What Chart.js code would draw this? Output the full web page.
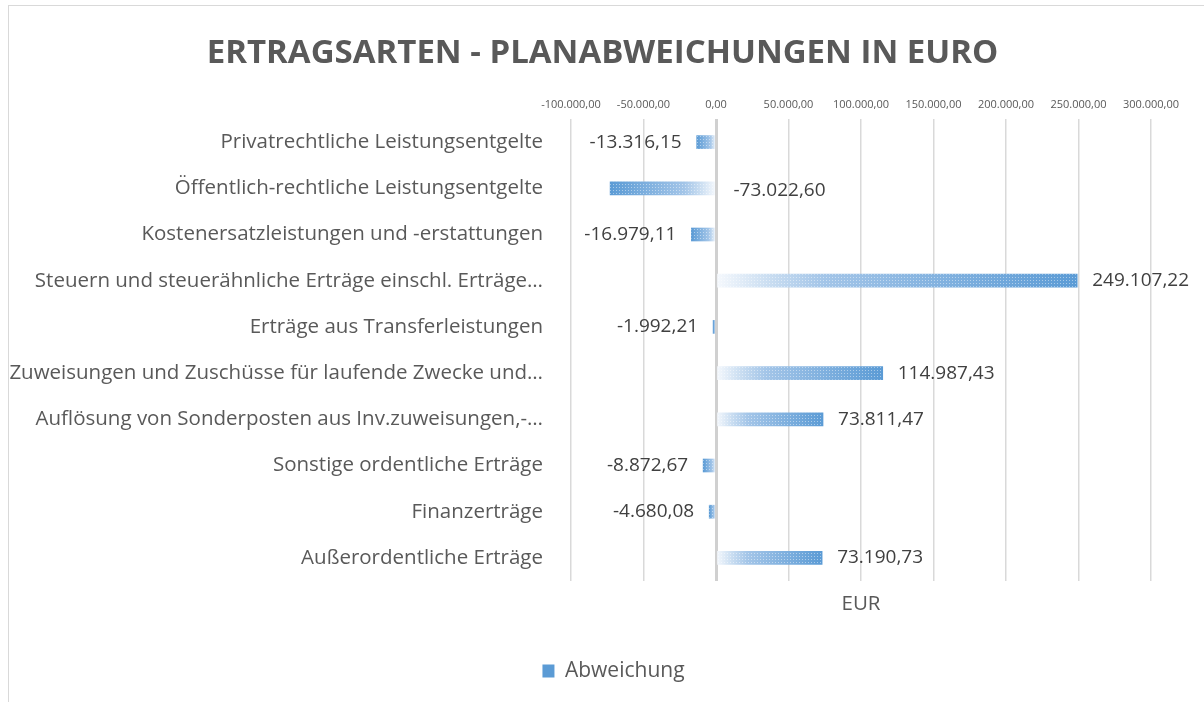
<!DOCTYPE html>
<html lang="de">
<head>
<meta charset="utf-8">
<title>Ertragsarten - Planabweichungen in Euro</title>
<script src="https://cdn.jsdelivr.net/npm/chart.js@4.4.1/dist/chart.umd.min.js"></script>
<style>
  html, body { margin: 0; padding: 0; background: #fff; }
  #wrap { width: 1204px; height: 702px; }
</style>
</head>
<body>
<div id="wrap"><canvas id="graficoErtrag" width="1204" height="702"></canvas></div>
<script>
const kategorien = [
    'Privatrechtliche Leistungsentgelte',
    'Öffentlich-rechtliche Leistungsentgelte',
    'Kostenersatzleistungen und -erstattungen',
    'Steuern und steuerähnliche Erträge einschl. Erträge…',
    'Erträge aus Transferleistungen',
    'Zuweisungen und Zuschüsse für laufende Zwecke und…',
    'Auflösung von Sonderposten aus Inv.zuweisungen,-…',
    'Sonstige ordentliche Erträge',
    'Finanzerträge',
    'Außerordentliche Erträge'
]
const abweichung = [-13316.15, -73022.60, -16979.11, 249107.22, -1992.21, 114987.43, 73811.47, -8872.67, -4680.08, 73190.73]
const achseMin = -100000
const achseMax = 300000
const achseSchritt = 50000

Chart.defaults.font.family = "'Open Sans', sans-serif"

function formatiereEuro(wert) {
    const negativ = wert < 0
    const teile = Math.abs(wert).toFixed(2).split('.')
    const ganz = teile[0].replace(/\B(?=(\d{3})+(?!\d))/g, '.')
    return (negativ ? '-' : '') + ganz + ',' + teile[1]
}

// Verlauf vom Nullpunkt (hell) bis zum Balkenende (blau)
function balkenFarbe(context) {
    const chart = context.chart
    const skala = chart.scales.x
    if (!chart.chartArea || !skala || context.raw === undefined) return '#6fa6da'
    const x0 = skala.getPixelForValue(0)
    const x1 = skala.getPixelForValue(context.raw)
    if (Math.abs(x1 - x0) < 1) return '#9ec2e6'
    const verlauf = chart.ctx.createLinearGradient(x0, 0, x1, 0)
    verlauf.addColorStop(0, '#f6f9fd')
    verlauf.addColorStop(0.15, '#c9ddf1')
    verlauf.addColorStop(0.3, '#a3c5e8')
    verlauf.addColorStop(1, '#5b9bd5')
    return verlauf
}

function punktMuster(ctx) {
    const c = document.createElement('canvas')
    c.width = 3
    c.height = 3
    const p = c.getContext('2d')
    p.fillStyle = 'rgba(255,255,255,0.45)'
    p.fillRect(1, 1, 1, 1)
    return ctx.createPattern(c, 'repeat')
}

const rahmen = {
    id: 'rahmen',
    afterLayout(chart) {
        // Titel und Legende sitzen im Original rechts der Mitte
        chart.titleBlock.left += 27
        chart.titleBlock.right += 27
        chart.legend.left += 38
        chart.legend.right += 38
    },
    beforeDraw(chart) {
        const ctx = chart.ctx
        ctx.save()
        ctx.strokeStyle = '#d9d9d9'
        ctx.lineWidth = 1
        ctx.strokeRect(8.5, 5.5, 1200, 720)
        ctx.restore()
    }
}

const beschriftung = {
    id: 'beschriftung',
    afterDatasetsDraw(chart) {
        const ctx = chart.ctx
        const meta = chart.getDatasetMeta(0)
        const bereich = chart.chartArea
        ctx.save()
        // Punktraster auf den Balken
        ctx.fillStyle = punktMuster(ctx)
        meta.data.forEach((balken) => {
            const links = Math.min(balken.x, balken.base)
            ctx.fillRect(links, balken.y - balken.height / 2, Math.abs(balken.x - balken.base), balken.height)
        })
        ctx.font = "19px 'Open Sans'"
        ctx.fillStyle = '#404040'
        ctx.textBaseline = 'middle'
        const abstand = 15
        meta.data.forEach((balken, i) => {
            const wert = abweichung[i]
            const text = formatiereEuro(wert)
            const breite = ctx.measureText(text).width
            if (wert >= 0) {
                ctx.textAlign = 'left'
                ctx.fillText(text, balken.x + abstand, balken.y)
            } else if (balken.x - abstand - breite >= bereich.left) {
                ctx.textAlign = 'right'
                ctx.fillText(text, balken.x - abstand, balken.y)
            } else {
                ctx.textAlign = 'left'
                ctx.fillText(text, balken.base + abstand + 4, balken.y + 2)
            }
        })
        ctx.restore()
    }
}

const graficoErtrag = document.getElementById('graficoErtrag')

const graficoParaErtrag = new Chart(graficoErtrag, {
    type: 'bar',
    data: {
        labels: kategorien,
        datasets: [{
            label: 'Abweichung',
            data: abweichung,
            backgroundColor: balkenFarbe,
            borderWidth: 0,
            barThickness: 13
        }]
    },
    options: {
        indexAxis: 'y',
        responsive: false,
        animation: false,
        layout: {
            padding: { left: 0, right: 53, top: 0, bottom: 10.5 }
        },
        scales: {
            x: {
                position: 'top',
                min: achseMin,
                max: achseMax,
                grid: {
                    drawTicks: false,
                    color: (ctx) => ctx.tick && ctx.tick.value === 0 ? '#d0d0d0' : '#d9d9d9',
                    lineWidth: (ctx) => ctx.tick && ctx.tick.value === 0 ? 3 : 1.5
                },
                border: { display: false },
                ticks: {
                    stepSize: achseSchritt,
                    padding: 8,
                    color: '#595959',
                    font: { size: 11 },
                    maxRotation: 0,
                    callback: (wert) => formatiereEuro(wert)
                }
            },
            x2: {
                type: 'linear',
                position: 'bottom',
                grid: { display: false, drawTicks: false },
                border: { display: false },
                ticks: { display: false },
                title: {
                    display: true,
                    text: 'EUR',
                    color: '#595959',
                    font: { size: 20.5 },
                    padding: { top: 10.7, bottom: 34.2 }
                }
            },
            y: {
                grid: { display: false },
                border: { display: false },
                ticks: {
                    color: '#595959',
                    font: { size: 20.5 },
                    padding: 20
                },
                afterFit: (skala) => { skala.width = 571 }
            }
        },
        plugins: {
            title: {
                display: true,
                text: 'ERTRAGSARTEN - PLANABWEICHUNGEN IN EURO',
                color: '#595959',
                font: { size: 33, weight: 'bold' },
                padding: { top: 34, bottom: 16.2 }
            },
            legend: {
                position: 'bottom',
                labels: {
                    color: '#595959',
                    font: { size: 21 },
                    boxWidth: 12,
                    boxHeight: 13,
                    padding: 10
                }
            },
            tooltip: { enabled: false }
        }
    },
    plugins: [rahmen, beschriftung]
});
</script>
</body>
</html>
